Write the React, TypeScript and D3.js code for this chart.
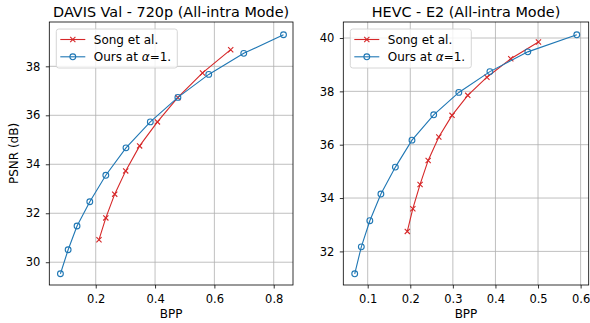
import React, { useEffect, useRef } from 'react';
import * as d3 from 'd3';

// DAVIS Val - 720p
const davisOursBpp = [0.081, 0.107, 0.137, 0.180, 0.234, 0.302, 0.384, 0.477, 0.581, 0.699, 0.833];
const davisOursPsnr = [29.53, 30.51, 31.48, 32.47, 33.55, 34.67, 35.73, 36.73, 37.67, 38.53, 39.29];
const davisSongBpp = [0.211, 0.234, 0.264, 0.301, 0.348, 0.408, 0.477, 0.560, 0.655];
const davisSongPsnr = [30.92, 31.81, 32.78, 33.73, 34.75, 35.73, 36.73, 37.73, 38.68];

// HEVC - E2
const hevcOursBpp = [0.0695, 0.085, 0.105, 0.131, 0.165, 0.204, 0.255, 0.314, 0.387, 0.476, 0.591];
const hevcOursPsnr = [31.16, 32.17, 33.15, 34.15, 35.16, 36.17, 37.12, 37.96, 38.74, 39.48, 40.12];
const hevcSongBpp = [0.193, 0.206, 0.223, 0.242, 0.267, 0.298, 0.335, 0.380, 0.436, 0.501];
const hevcSongPsnr = [32.75, 33.60, 34.51, 35.41, 36.29, 37.10, 37.85, 38.53, 39.22, 39.85];

const davisXTicks = [0.2, 0.4, 0.6, 0.8];
const davisYTicks = [30, 32, 34, 36, 38];
const hevcXTicks = [0.1, 0.2, 0.3, 0.4, 0.5, 0.6];
const hevcYTicks = [32, 34, 36, 38, 40];

const BLUE = '#1f77b4';
const RED = '#d62728';
const FONT = 'DejaVu Sans, sans-serif';
const TICK_FS = 11.5;
const LABEL_FS = 12;
const TITLE_FS = 14.4;

const drawPanel = (svg, cfg) => {
	const x = d3.scaleLinear().domain(cfg.xDomain).range([cfg.left, cfg.right]);
	const y = d3.scaleLinear().domain(cfg.yDomain).range([cfg.bottom, cfg.top]);
	const g = svg.append('g');

	// grid
	g.selectAll('.gx').data(cfg.xTicks).enter().append('line')
		.attr('x1', d => x(d)).attr('x2', d => x(d))
		.attr('y1', cfg.top).attr('y2', cfg.bottom)
		.attr('stroke', '#b0b0b0').attr('stroke-width', 0.8);
	g.selectAll('.gy').data(cfg.yTicks).enter().append('line')
		.attr('y1', d => y(d)).attr('y2', d => y(d))
		.attr('x1', cfg.left).attr('x2', cfg.right)
		.attr('stroke', '#b0b0b0').attr('stroke-width', 0.8);

	// axes
	const xAxis = d3.axisBottom(x).tickValues(cfg.xTicks).tickSize(3.5).tickPadding(6.5).tickFormat(d3.format('.1f'));
	const yAxis = d3.axisLeft(y).tickValues(cfg.yTicks).tickSize(3.5).tickPadding(5.5).tickFormat(d3.format('d'));
	const gx = g.append('g').attr('transform', `translate(0,${cfg.bottom})`).call(xAxis);
	const gy = g.append('g').attr('transform', `translate(${cfg.left},0)`).call(yAxis);
	[gx, gy].forEach(a => {
		a.select('.domain').remove();
		a.selectAll('line').attr('stroke', '#000').attr('stroke-width', 0.8);
		a.selectAll('text').attr('font-family', FONT).attr('font-size', TICK_FS).attr('fill', '#000');
	});

	// spines
	g.append('rect')
		.attr('x', cfg.left).attr('y', cfg.top)
		.attr('width', cfg.right - cfg.left).attr('height', cfg.bottom - cfg.top)
		.attr('fill', 'none').attr('stroke', '#000').attr('stroke-width', 0.8);

	const line = d3.line().x(d => x(d[0])).y(d => y(d[1]));

	const song = cfg.songBpp.map((b, i) => [b, cfg.songPsnr[i]]);
	const ours = cfg.oursBpp.map((b, i) => [b, cfg.oursPsnr[i]]);

	const plot = g.append('g');
	plot.append('path').datum(song).attr('d', line).attr('fill', 'none').attr('stroke', RED).attr('stroke-width', 1.1);
	plot.selectAll('.xm').data(song).enter().append('path')
		.attr('d', 'M-2.6,-2.6L2.6,2.6M-2.6,2.6L2.6,-2.6')
		.attr('transform', d => `translate(${x(d[0])},${y(d[1])})`)
		.attr('stroke', RED).attr('stroke-width', 1.1);

	plot.append('path').datum(ours).attr('d', line).attr('fill', 'none').attr('stroke', BLUE).attr('stroke-width', 1.1);
	plot.selectAll('.cm').data(ours).enter().append('circle')
		.attr('cx', d => x(d[0])).attr('cy', d => y(d[1])).attr('r', 2.9)
		.attr('fill', 'none').attr('stroke', BLUE).attr('stroke-width', 1.1);

	// title and labels
	svg.append('text').text(cfg.title)
		.attr('x', (cfg.left + cfg.right) / 2).attr('y', 17)
		.attr('text-anchor', 'middle').attr('font-family', FONT).attr('font-size', TITLE_FS);
	svg.append('text').text('BPP')
		.attr('x', (cfg.left + cfg.right) / 2).attr('y', 318)
		.attr('text-anchor', 'middle').attr('font-family', FONT).attr('font-size', LABEL_FS);

	// legend
	const lx = cfg.left + 7, ly = cfg.top + 7;
	const leg = svg.append('g');
	leg.append('rect').attr('x', lx).attr('y', ly).attr('width', 121).attr('height', 39).attr('rx', 2.5)
		.attr('fill', 'white').attr('fill-opacity', 0.8).attr('stroke', '#cccccc').attr('stroke-width', 0.8);
	const rows = [
		{ color: RED, mark: 'x', label: 'Song et al.' },
		{ color: BLUE, mark: 'o', label: 'Ours' },
	];
	rows.forEach((r, i) => {
		const yy = ly + 10.5 + i * 17.3;
		leg.append('line').attr('x1', lx + 4).attr('x2', lx + 29).attr('y1', yy).attr('y2', yy)
			.attr('stroke', r.color).attr('stroke-width', 1.1);
		if (r.mark === 'x') {
			leg.append('path').attr('d', 'M-2.6,-2.6L2.6,2.6M-2.6,2.6L2.6,-2.6')
				.attr('transform', `translate(${lx + 16.5},${yy})`).attr('stroke', r.color).attr('stroke-width', 1.1);
		} else {
			leg.append('circle').attr('cx', lx + 16.5).attr('cy', yy).attr('r', 2.9)
				.attr('fill', 'none').attr('stroke', r.color).attr('stroke-width', 1.1);
		}
		const t = leg.append('text').attr('x', lx + 37.5).attr('y', yy + 4.3)
			.attr('font-family', FONT).attr('font-size', LABEL_FS);
		if (r.mark === 'x') {
			t.text(r.label);
		} else {
			t.append('tspan').text('Ours at ');
			t.append('tspan').text('α').attr('font-style', 'italic');
			t.append('tspan').text('=1.');
		}
	});
};

const App = () => {
	const ref = useRef(null);

	useEffect(() => {
		const svg = d3.select(ref.current);
		svg.selectAll('*').remove();

		drawPanel(svg, {
			title: 'DAVIS Val - 720p (All-intra Mode)',
			left: 49.3, right: 293, top: 22, bottom: 285,
			xDomain: [0.0435, 0.865], yDomain: [29.07, 39.81],
			xTicks: davisXTicks, yTicks: davisYTicks,
			oursBpp: davisOursBpp, oursPsnr: davisOursPsnr,
			songBpp: davisSongBpp, songPsnr: davisSongPsnr,
		});
		drawPanel(svg, {
			title: 'HEVC - E2 (All-intra Mode)',
			left: 343.3, right: 588.7, top: 22, bottom: 285,
			xDomain: [0.0427, 0.619], yDomain: [30.74, 40.6],
			xTicks: hevcXTicks, yTicks: hevcYTicks,
			oursBpp: hevcOursBpp, oursPsnr: hevcOursPsnr,
			songBpp: hevcSongBpp, songPsnr: hevcSongPsnr,
		});

		svg.append('text').text('PSNR (dB)')
			.attr('transform', `translate(17.5,${(22 + 285) / 2}) rotate(-90)`)
			.attr('text-anchor', 'middle').attr('font-family', FONT).attr('font-size', LABEL_FS);
	}, []);

	return (
		<svg ref={ref} width={590} height={323}
			style={{ position: 'absolute', left: 0, top: 0, background: 'white' }} />
	);
};

export default App;
